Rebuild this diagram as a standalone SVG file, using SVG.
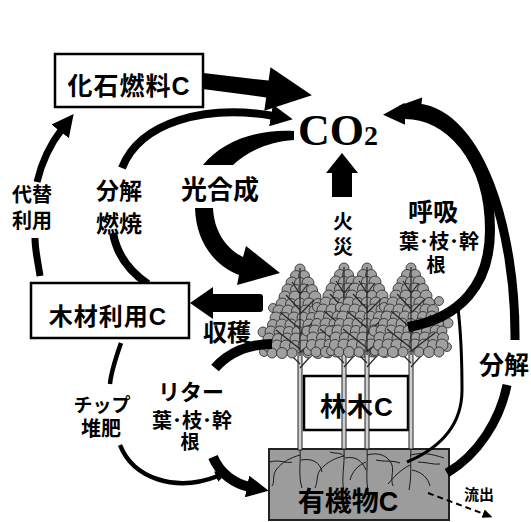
<svg xmlns="http://www.w3.org/2000/svg" xmlns:xlink="http://www.w3.org/1999/xlink" width="531" height="522" viewBox="0 0 531 522">
  <style>
    .t{font-family:"Liberation Sans","Noto Sans CJK JP",sans-serif;font-weight:bold;fill:#000;text-anchor:middle}
    .box{fill:#fff;stroke:#000;stroke-width:2.5}
    .arc{fill:none;stroke:#000;stroke-linecap:butt}
    .root{fill:none;stroke:#1a1a1a;stroke-width:1}
    .leaf circle{fill:#a0a0a0;stroke:#262626;stroke-width:0.8}
    .twig{stroke:#262626;stroke-width:1.2;fill:none}
  </style>
  <defs>
    <marker id="hd" viewBox="0 0 22 22" markerWidth="22" markerHeight="22" refX="3" refY="11" orient="auto" markerUnits="userSpaceOnUse">
      <path d="M0,0 L22,11 L0,22 Z"/>
    </marker>
    <marker id="hs" viewBox="0 0 12 11" markerWidth="12" markerHeight="11" refX="2" refY="5.5" orient="auto" markerUnits="userSpaceOnUse">
      <path d="M0,0 L12,5.5 L0,11 Z"/>
    </marker>
    <marker id="ht" viewBox="0 0 10 9" markerWidth="10" markerHeight="9" refX="1" refY="4.5" orient="auto" markerUnits="userSpaceOnUse">
      <path d="M0,0 L10,4.5 L0,9 Z"/>
    </marker>
    <!-- one conifer: crown of leaf clumps, branches, trunk down to the soil -->
    <symbol id="tree" overflow="visible">
      <rect x="-2" y="88" width="4" height="98" fill="#d0d0d0" stroke="#222" stroke-width="1"/>
      <path class="twig" d="M0,100 L-16,84 M0,104 L16,86"/>
      <g class="leaf">
        <circle cx="-27" cy="44" r="4.5"/><circle cx="28" cy="38" r="4.5"/>
        <circle cx="-37" cy="68" r="5"/><circle cx="37" cy="60" r="5"/>
        <circle cx="-36" cy="88" r="4.5"/><circle cx="36" cy="84" r="4.5"/>
        <circle cx="0" cy="5" r="5"/>
        <circle cx="-4" cy="12" r="5.5"/><circle cx="4" cy="12" r="5.5"/>
        <circle cx="-8" cy="19" r="6"/><circle cx="0" cy="19" r="5.5"/><circle cx="8" cy="19" r="6"/>
        <circle cx="-12" cy="26" r="6"/><circle cx="-4" cy="26" r="5.5"/><circle cx="4" cy="26" r="6"/><circle cx="12" cy="26" r="5.5"/>
        <circle cx="-15" cy="33" r="6"/><circle cx="-5" cy="33" r="6"/><circle cx="5" cy="33" r="5.5"/><circle cx="15" cy="33" r="6"/>
        <circle cx="-18" cy="40" r="6"/><circle cx="-9" cy="40" r="5.5"/><circle cx="0" cy="40" r="6"/><circle cx="9" cy="40" r="6"/><circle cx="18" cy="40" r="5.5"/>
        <circle cx="-21" cy="47" r="6"/><circle cx="-12" cy="47" r="6"/><circle cx="-3" cy="47" r="5.5"/><circle cx="6" cy="47" r="6"/><circle cx="15" cy="47" r="6"/><circle cx="22" cy="47" r="5.5"/>
        <circle cx="-24" cy="54" r="6"/><circle cx="-15" cy="54" r="5.5"/><circle cx="-6" cy="54" r="6"/><circle cx="3" cy="54" r="6"/><circle cx="12" cy="54" r="5.5"/><circle cx="21" cy="54" r="6"/>
        <circle cx="-27" cy="61" r="5.5"/><circle cx="-18" cy="61" r="6"/><circle cx="-9" cy="61" r="6"/><circle cx="0" cy="61" r="5.5"/><circle cx="9" cy="61" r="6"/><circle cx="18" cy="61" r="6"/><circle cx="27" cy="61" r="5.5"/>
        <circle cx="-29" cy="68" r="6"/><circle cx="-20" cy="68" r="6"/><circle cx="-11" cy="68" r="5.5"/><circle cx="-2" cy="68" r="6"/><circle cx="7" cy="68" r="6"/><circle cx="16" cy="68" r="5.5"/><circle cx="25" cy="68" r="6"/><circle cx="31" cy="68" r="5"/>
        <circle cx="-31" cy="75" r="6"/><circle cx="-22" cy="75" r="5.5"/><circle cx="-13" cy="75" r="6"/><circle cx="-4" cy="75" r="6"/><circle cx="5" cy="75" r="5.5"/><circle cx="14" cy="75" r="6"/><circle cx="23" cy="75" r="6"/><circle cx="32" cy="75" r="5.5"/>
        <circle cx="-32" cy="82" r="5.5"/><circle cx="-23" cy="82" r="6"/><circle cx="-14" cy="82" r="6"/><circle cx="-5" cy="82" r="5.5"/><circle cx="4" cy="82" r="6"/><circle cx="13" cy="82" r="6"/><circle cx="22" cy="82" r="5.5"/><circle cx="31" cy="82" r="6"/>
        <circle cx="-28" cy="89" r="5"/><circle cx="-18" cy="89" r="5.5"/><circle cx="-8" cy="89" r="5"/><circle cx="8" cy="89" r="5"/><circle cx="18" cy="89" r="5.5"/><circle cx="28" cy="89" r="5"/>
      </g>
      <path class="twig" d="M0,4 L0,92 M0,30 L-8,18 M0,30 L8,20 M0,46 L-14,31 M0,50 L14,36 M0,65 L-20,48 M0,70 L20,52 M0,85 L-24,66 M0,88 L24,70"/>
    </symbol>
  </defs>

  <rect width="531" height="522" fill="#fff"/>

  <!-- soil organic carbon -->
  <g id="node-soil">
    <rect x="269" y="449" width="180" height="71" fill="#9c9c9c" stroke="#222" stroke-width="2"/>
    <path class="root" d="M300,449 C301,462 298,475 302,488 M300,455 C290,458 282,462 276,470 C272,476 275,482 272,486 M301,460 C312,458 320,462 322,472 M270,462 C280,459 286,464 292,462"/>
    <path class="root" d="M344,449 C345,465 341,478 344,492 M344,456 C335,458 327,462 320,470 C316,476 318,482 315,488 M345,458 C355,456 362,460 366,470 M330,452 C336,454 340,452 344,456"/>
    <path class="root" d="M367,449 C368,466 365,480 369,495 M367,455 C378,452 388,455 392,465 C394,472 390,478 393,486 M366,462 C358,465 352,472 350,480 M376,460 C384,462 392,460 400,463"/>
    <path class="root" d="M411,449 C410,462 412,475 409,490 M411,455 C422,452 432,454 444,458 M410,465 C400,470 393,478 388,484 M412,470 C422,472 428,478 430,486 M418,462 C426,462 434,465 440,464"/>
    <text class="t" x="348" y="511" font-size="27">有機物C</text>
  </g>

  <!-- forest trees -->
  <g id="node-forest">
    <rect class="box" x="304" y="376" width="104" height="54"/>
    <use xlink:href="#tree" x="300" y="264"/>
    <use xlink:href="#tree" x="344" y="263"/>
    <use xlink:href="#tree" x="367" y="263"/>
    <use xlink:href="#tree" x="411" y="263"/>
    <text class="t" x="357" y="416" font-size="26" letter-spacing="1">林木C</text>
  </g>

  <!-- carbon flows -->
  <g id="connectors">
    <!-- fossil fuel -> CO2 -->
    <path d="M195,72 L268.6,80.6 L270.5,67.2 L311.9,95.3 L264.3,110.8 L266.2,97.4 L195,88 Z"/>
    <!-- decomposition / combustion of wood products -->
    <path class="arc" stroke-width="8" d="M148,284 C130,272 117,255 113,233"/>
    <path class="arc" stroke-width="8" marker-end="url(#hd)" d="M122,168 C140,122 205,104 274,116"/>
    <!-- photosynthesis -->
    <path d="M294,131 C255,129 222,142 203,165 L233,165 C248,151 268,142 294,140 Z"/>
    <path d="M195,208 L213,208 C214,230 225,248 243,257 L246,246 L280,273 L237,285 L239,275 C214,265 196,242 195,208 Z"/>
    <!-- fire -->
    <path d="M342,153 L358,173 L352,173 L352,197 L332,197 L332,173 L326,173 Z"/>
    <!-- respiration -->
    <path class="arc" stroke-width="10" marker-end="url(#hd)" d="M408,327 C460,318 490,285 490,230 C490,160 450,112 402,114"/>
    <path class="arc" stroke-width="3" d="M407,462 C440,448 462,425 462,390 C462,350 460,325 458,308"/>
    <!-- decomposition of soil organic matter -->
    <path class="arc" stroke-width="9" d="M447,473 C478,455 500,420 507,385"/>
    <path class="arc" stroke-width="9" marker-end="url(#hd)" d="M515,340 C516,230 480,115 418,108"/>
    <!-- harvest -->
    <path d="M190,303 L213,287 L213,294 L260,294 Q263,294 263,297 L263,309 Q263,312 260,312 L213,312 L213,319 Z"/>
    <!-- substitution -->
    <path class="arc" stroke-width="7" d="M40,276 C38,262 35,250 35,238"/>
    <path class="arc" stroke-width="7" marker-end="url(#hd)" d="M37,182 C41,165 48,147 62,129"/>
    <!-- litter -->
    <path class="arc" stroke-width="10" d="M272,344 C248,344 228,353 215,368"/>
    <path class="arc" stroke-width="10" marker-end="url(#hd)" d="M213,457 C220,474 235,484 250,487"/>
    <!-- chips / compost -->
    <path class="arc" stroke-width="4.5" d="M121,343 C115,360 111,372 110,384"/>
    <path class="arc" stroke-width="4.5" marker-end="url(#hs)" d="M120,445 C133,478 175,493 218,476"/>
    <!-- outflow -->
    <path class="arc" stroke-width="2" stroke-dasharray="6 4" marker-end="url(#ht)" d="M428,493 L484,514"/>
  </g>

  <!-- flow labels -->
  <g id="labels">
    <text class="t" font-size="20"><tspan x="32" y="202">代替</tspan><tspan x="32" y="228">利用</tspan></text>
    <text class="t" font-size="23"><tspan x="119" y="199">分解</tspan><tspan x="119" y="232">燃焼</tspan></text>
    <text class="t" x="220" y="199" font-size="26">光合成</text>
    <text class="t" font-size="20"><tspan x="343" y="229">火</tspan><tspan x="343" y="254">災</tspan></text>
    <text class="t" x="433" y="221" font-size="25">呼吸</text>
    <text class="t" font-size="20"><tspan x="439" y="249">葉･枝･幹</tspan><tspan x="436" y="272" font-size="19">根</tspan></text>
    <text class="t" x="227" y="341" font-size="24">収穫</text>
    <text class="t" x="191" y="400" font-size="22">リター</text>
    <text class="t" font-size="20"><tspan x="192" y="428">葉･枝･幹</tspan><tspan x="190" y="449" font-size="19">根</tspan></text>
    <text class="t" font-size="20"><tspan x="102" y="412" font-size="19">チップ</tspan><tspan x="101" y="436">堆肥</tspan></text>
    <text class="t" x="504" y="374" font-size="25">分解</text>
    <text class="t" x="479" y="500" font-size="15">流出</text>
  </g>

  <g id="node-fossil">
    <rect class="box" x="55" y="54" width="148" height="53"/>
    <text class="t" x="129" y="95" font-size="25" letter-spacing="1">化石燃料C</text>
  </g>

  <g id="node-wood">
    <rect class="box" x="31" y="283" width="158" height="55"/>
    <text class="t" x="108" y="325" font-size="24" letter-spacing="1">木材利用C</text>
  </g>

  <g id="node-co2">
    <text x="298" y="145" font-family="'Liberation Serif','Times New Roman',serif" font-weight="bold" font-size="44">CO<tspan font-size="28">2</tspan></text>
  </g>
</svg>
